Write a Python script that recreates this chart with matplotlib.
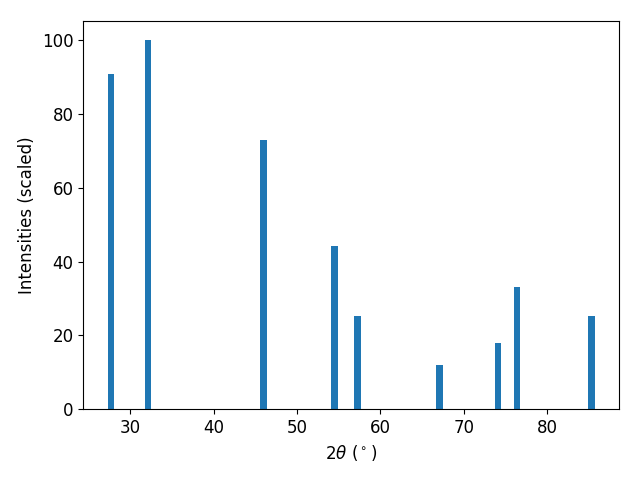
import numpy as np
import matplotlib
matplotlib.use("Agg")
import matplotlib.pyplot as plt

# peak positions and scaled intensities
two_theta = np.array([27.65, 32.1, 46.0, 54.5, 57.25, 67.1, 74.1, 76.4, 85.3])
intensity = np.array([90.8, 100.0, 72.9, 44.2, 25.4, 11.9, 17.9, 33.0, 25.4])

fig, ax = plt.subplots(figsize=(6.4, 4.8), dpi=100)
ax.bar(two_theta, intensity, width=0.8, color='tab:blue')
ax.set_xlabel(r"$2\theta$ ($^\circ$)", fontsize=12)
ax.set_ylabel("Intensities (scaled)", fontsize=12)
ax.tick_params(labelsize=12)

fig.subplots_adjust(left=0.130, right=0.967, top=0.956, bottom=0.147)
plt.savefig("out.png")
